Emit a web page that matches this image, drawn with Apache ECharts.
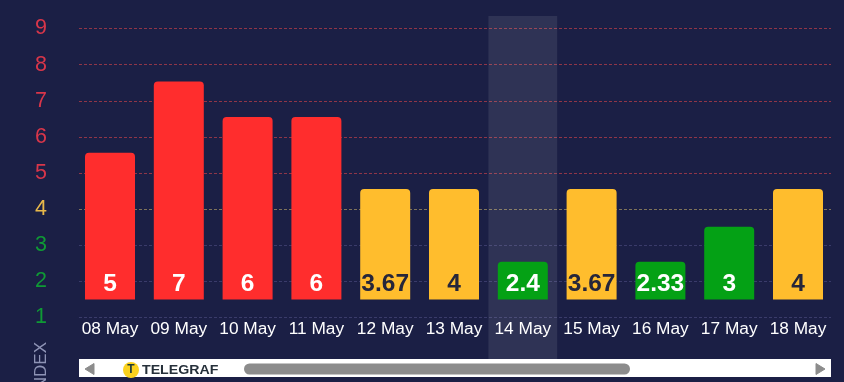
<!DOCTYPE html>
<html><head><meta charset="utf-8">
<style>html,body{margin:0;padding:0;background:#1b1f45;overflow:hidden}#c{width:844px;height:382px}</style>
<script src="https://cdn.jsdelivr.net/npm/echarts@6/dist/echarts.min.js"></script>
</head><body><div id="c"></div>
<script>
const categories = ['08 May','09 May','10 May','11 May','12 May','13 May','14 May','15 May','16 May','17 May','18 May'];
const indexValues = [5,7,6,6,3.67,4,2.4,3.67,2.33,3,4];
const barTops = [5.56,7.53,6.55,6.55,4.56,4.56,2.54,4.56,2.54,3.51,4.56];
const barBase = 1.5;
const yLevels = [1,2,3,4,5,6,7,8,9];
const highlighted = '14 May';
const RED='#ff2d2d', YEL='#ffbd2d', GRN='#04a115';
const labelColor = v => v>=5 ? '#d9364a' : v>=4 ? '#e8b84a' : '#0f9a35';
const lineColor = v => v>=5 ? '#8f3548' : v>=4 ? '#80745a' : '#3a3b6a';
const barColor = t => t>=5 ? RED : t>=4 ? YEL : GRN;
const font = '"Liberation Sans", Arial, sans-serif';
const chart = echarts.init(document.getElementById('c'),null,{renderer:'canvas'});
const gridTop=28.5, gridBottom=382-317.5;
chart.setOption({
  backgroundColor:'#1b1f45',
  animation:false,
  grid:[
    {left:79,right:13,top:gridTop,bottom:gridBottom},
    {left:75.6,right:11.6,top:gridTop,bottom:gridBottom},
    {left:75.6,right:11.6,top:16,bottom:23}
  ],
  xAxis:[
    {gridIndex:0,type:'category',data:categories,show:false},
    {gridIndex:1,type:'category',data:categories,axisLine:{show:false},axisTick:{show:false},
     axisLabel:{color:'#ffffff',fontSize:17.3,fontFamily:font,margin:3,interval:0,verticalAlign:'top'}},
    {gridIndex:2,type:'category',data:categories,show:false}
  ],
  yAxis:[
    {gridIndex:0,type:'value',min:1,max:9,interval:1,axisLine:{show:false},axisTick:{show:false},
     axisLabel:{fontSize:21.5,fontFamily:font,margin:32,color:v=>labelColor(+v)},
     splitLine:{show:false}},
    {gridIndex:1,type:'value',min:1,max:9,interval:1,show:false,splitLine:{show:false}},
    {gridIndex:2,type:'value',min:0,max:1,show:false,splitLine:{show:false}}
  ],
  series:[
    {type:'line',xAxisIndex:0,yAxisIndex:0,data:[],silent:true,z:0,
     markLine:{z:0,silent:true,symbol:'none',label:{show:false},animation:false,
       data:yLevels.map(v=>({yAxis:v,lineStyle:{color:lineColor(v),type:[3,2],width:1}}))}},
    {type:'bar',xAxisIndex:2,yAxisIndex:2,barWidth:'100%',silent:true,z:1,
     itemStyle:{color:'rgba(255,255,255,0.09)'},
     data:categories.map(c=>c===highlighted?1:null)},
    {type:'bar',xAxisIndex:1,yAxisIndex:1,stack:'b',barWidth:50,z:3,silent:true,
     itemStyle:{color:'transparent'},data:categories.map(()=>barBase)},
    {type:'bar',xAxisIndex:1,yAxisIndex:1,stack:'b',barWidth:50,z:3,silent:true,
     data:barTops.map((t,i)=>({
       value:t-barBase,
       itemStyle:{color:barColor(t),borderRadius:[4,4,0,0]},
       label:{color:t>=4&&t<5?'#26263a':'#ffffff'}
     })),
     label:{show:true,position:'insideBottom',distance:3,fontSize:24.5,fontWeight:'bold',fontFamily:font,
       formatter:p=>String(indexValues[p.dataIndex])}}
  ],
  graphic:[
    {type:'rect',shape:{x:79,y:359,width:752,height:18},style:{fill:'#ffffff'},z:10},
    {type:'polygon',shape:{points:[[94,363.5],[94,374.5],[85,369]]},style:{fill:'#8c8c8c',stroke:'#8c8c8c',lineWidth:1,lineJoin:'round'},z:11},
    {type:'polygon',shape:{points:[[816,363.5],[816,374.5],[825,369]]},style:{fill:'#8c8c8c',stroke:'#8c8c8c',lineWidth:1,lineJoin:'round'},z:11},
    {type:'rect',shape:{x:244,y:363.5,width:386,height:11,r:5.5},style:{fill:'#8c8c8c'},z:11},
    {type:'circle',shape:{cx:131,cy:370,r:8},style:{fill:'#fbd21e'},z:11},
    {type:'text',x:131,y:370,z:12,style:{text:'T',font:'bold 12px '+font,fill:'#1d3a3a',align:'center',verticalAlign:'middle'}},
    {type:'text',x:142,y:370,z:12,scaleX:1.09,style:{text:'TELEGRAF',font:'bold 13px '+font,fill:'#26303a',align:'left',verticalAlign:'middle'}},
    {type:'text',x:41,y:368,rotation:Math.PI/2,z:5,style:{text:'INDEX',font:'17px '+font,fill:'#8e93b5',align:'center',verticalAlign:'middle'}}
  ]
});
</script></body></html>
